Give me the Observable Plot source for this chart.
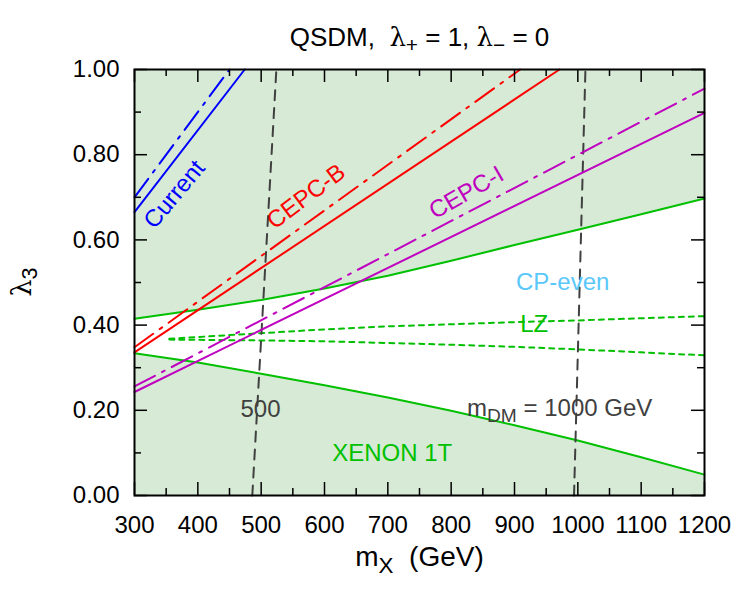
<!DOCTYPE html>
<html><head><meta charset="utf-8">
<script src="https://cdn.jsdelivr.net/npm/d3@7"></script>
<script src="https://cdn.jsdelivr.net/npm/@observablehq/plot@0.6"></script>
<style>body{margin:0;background:#fff;} #chart svg{display:block;}</style>
</head><body><div id="chart"></div>
<script>
// ---- data ----
const mass = [300, 400, 500, 600, 700, 800, 900, 1000, 1100, 1200];
const xenonUpper = [0.415, 0.436, 0.459, 0.486, 0.516, 0.551, 0.588, 0.624, 0.660, 0.697];
const xenonLower = [0.334, 0.312, 0.286, 0.259, 0.230, 0.199, 0.165, 0.129, 0.090, 0.049];
const lzMass = [355, 500, 600, 700, 800, 900, 1000, 1100, 1200];
const lzUpper = [0.368, 0.381, 0.390, 0.397, 0.402, 0.407, 0.411, 0.416, 0.421];
const lzLower = [0.366, 0.364, 0.362, 0.358, 0.354, 0.349, 0.343, 0.336, 0.329];
// higgs-coupling constraints: [mass, lambda3] end points
const currentSolid = [[300, 0.665], [474, 1.0]];
const currentDash = [[300, 0.700], [450, 1.0]];
const cepcBSolid = [[300, 0.336], [971, 1.0]];
const cepcBDash = [[300, 0.348], [909, 1.0]];
const cepcISolid = [[300, 0.243], [1200, 0.898]];
const cepcIDash = [[300, 0.256], [1200, 0.955]];
// m_DM contours
const mdm500 = [[486, 0], [524, 1]];
const mdm1000 = [[994, 0], [1012, 1]];
// ticks
const xMajor = [300, 400, 500, 600, 700, 800, 900, 1000, 1100, 1200];
const xMinor = [350, 450, 550, 650, 750, 850, 950, 1050, 1150];
const yMajor = [0, 0.2, 0.4, 0.6, 0.8, 1.0];
const yMinor = [0.1, 0.3, 0.5, 0.7, 0.9];
// text annotations (anchor in data coordinates)
const annotations = [
  {text: "Current", x: 363, y: 0.707, rotate: -50, color: "#0000ff"},
  {text: "CEPC-B", x: 571, y: 0.702, rotate: -37, color: "#ff0000"},
  {text: "CEPC-I", x: 824, y: 0.711, rotate: -30, color: "#c000c0"},
  {text: "CP-even", x: 976, y: 0.500, rotate: 0, color: "#5ac8fa"},
  {text: "LZ", x: 931, y: 0.402, rotate: 0, color: "#00c000"},
  {text: "500", x: 499, y: 0.202, rotate: 0, color: "#404040"},
  {text: "XENON 1T", x: 707, y: 0.100, rotate: 0, color: "#00c000"}
];
const mdmLabel = [{text: "m_{DM} = 1000 GeV", x: 825, y: 0.205}];

// ---- build tables ----
const xenon = mass.map((m, i) => ({m, lo: xenonLower[i], hi: xenonUpper[i]}));
const lz = lzMass.map((m, i) => ({m, lo: lzLower[i], hi: lzUpper[i]}));
const pts = (arr) => arr.map(([m, l]) => ({m, l}));

const W = 750, H = 600, ML = 134, MR = 46, MT = 69, MB = 105;
const PW = W - ML - MR, PH = H - MT - MB;
const GREEN = "#00c000", BLUE = "#0000ff", RED = "#ff0000", MAG = "#c000c0";
const DASHDOT = "23,8,3,8";

const chart = Plot.plot({
  width: W, height: H,
  marginLeft: ML, marginRight: MR, marginTop: MT, marginBottom: MB,
  x: {domain: [300, 1200]},
  y: {domain: [0, 1]},
  style: {fontFamily: "'Liberation Sans', Arial, Helvetica, sans-serif", fontSize: "24px", background: "white", color: "black"},
  marks: [
    Plot.frame({fill: "#d6ead5"}),
    Plot.areaY(xenon, {x: "m", y1: "lo", y2: "hi", fill: "white"}),
    Plot.line(xenon, {x: "m", y: "hi", stroke: GREEN, strokeWidth: 2}),
    Plot.line(xenon, {x: "m", y: "lo", stroke: GREEN, strokeWidth: 2}),
    Plot.line(lz, {x: "m", y: "hi", stroke: GREEN, strokeWidth: 2, strokeDasharray: "5,5"}),
    Plot.line(lz, {x: "m", y: "lo", stroke: GREEN, strokeWidth: 2, strokeDasharray: "5,5"}),
    Plot.line(pts(mdm500), {x: "m", y: "l", stroke: "#404040", strokeWidth: 2, strokeDasharray: "10,8"}),
    Plot.line(pts(mdm1000), {x: "m", y: "l", stroke: "#404040", strokeWidth: 2, strokeDasharray: "10,8"}),
    Plot.line(pts(currentSolid), {x: "m", y: "l", stroke: BLUE, strokeWidth: 2}),
    Plot.line(pts(currentDash), {x: "m", y: "l", stroke: BLUE, strokeWidth: 2, strokeDasharray: DASHDOT}),
    Plot.line(pts(cepcBSolid), {x: "m", y: "l", stroke: RED, strokeWidth: 2}),
    Plot.line(pts(cepcBDash), {x: "m", y: "l", stroke: RED, strokeWidth: 2, strokeDasharray: DASHDOT}),
    Plot.line(pts(cepcISolid), {x: "m", y: "l", stroke: MAG, strokeWidth: 2}),
    Plot.line(pts(cepcIDash), {x: "m", y: "l", stroke: MAG, strokeWidth: 2, strokeDasharray: DASHDOT}),
    // inward ticks on all four sides
    Plot.tickX(xMajor, {x: d => d, insetTop: PH - 13, stroke: "black", strokeWidth: 1.5}),
    Plot.tickX(xMajor, {x: d => d, insetBottom: PH - 13, stroke: "black", strokeWidth: 1.5}),
    Plot.tickX(xMinor, {x: d => d, insetTop: PH - 7, stroke: "black", strokeWidth: 1.5}),
    Plot.tickX(xMinor, {x: d => d, insetBottom: PH - 7, stroke: "black", strokeWidth: 1.5}),
    Plot.tickY(yMajor, {y: d => d, insetRight: PW - 13, stroke: "black", strokeWidth: 1.5}),
    Plot.tickY(yMajor, {y: d => d, insetLeft: PW - 13, stroke: "black", strokeWidth: 1.5}),
    Plot.tickY(yMinor, {y: d => d, insetRight: PW - 7, stroke: "black", strokeWidth: 1.5}),
    Plot.tickY(yMinor, {y: d => d, insetLeft: PW - 7, stroke: "black", strokeWidth: 1.5}),
    Plot.frame({stroke: "black", strokeWidth: 2}),
    Plot.axisX({ticks: xMajor, tickSize: 0, tickPadding: 20, tickFormat: d3.format("d"), label: null, fontSize: 24}),
    Plot.axisY({ticks: yMajor, tickSize: 0, tickPadding: 15, tickFormat: d3.format(".2f"), label: null, fontSize: 24}),
    Plot.text(annotations, {x: "x", y: "y", text: "text", rotate: "rotate", fill: "color", fontSize: 24}),
    Plot.text(mdmLabel, {x: "x", y: "y", text: "text", textAnchor: "start", fill: "#404040", fontSize: 24}),
    Plot.text(["QSDM,\u00a0 λ_{+} = 1, λ_{−} = 0"], {frameAnchor: "top", dy: -42, text: d => d, fontSize: 26}),
    Plot.text(["m_{X}\u00a0\u00a0(GeV)"], {frameAnchor: "bottom", dy: 70, text: d => d, fontSize: 28}),
    Plot.text(["λ_{3}"], {frameAnchor: "left", dx: -112, dy: 14, rotate: -90, text: d => d, fontSize: 27})
  ]
});

// rich text: subscripts written as _{...}, λ drawn in a serif face
function richify(svg) {
  svg.querySelectorAll("text").forEach(t => {
    const s = t.textContent;
    if (!/_\{|λ/.test(s)) return;
    while (t.firstChild) t.removeChild(t.firstChild);
    s.split(/(_\{[^}]*\}|λ)/g).forEach(part => {
      if (!part) return;
      const ts = document.createElementNS("http://www.w3.org/2000/svg", "tspan");
      if (part.startsWith("_{")) {
        ts.textContent = part.slice(2, -1);
        ts.style.fontSize = "0.8em";
        ts.style.baselineShift = "-0.3em";
      } else if (part === "λ") {
        ts.textContent = "λ";
        ts.style.fontFamily = "'DejaVu Serif', 'Liberation Serif', serif";
      } else {
        ts.textContent = part;
      }
      t.appendChild(ts);
    });
  });
}
richify(chart);
document.getElementById("chart").appendChild(chart);
</script>
</body></html>
